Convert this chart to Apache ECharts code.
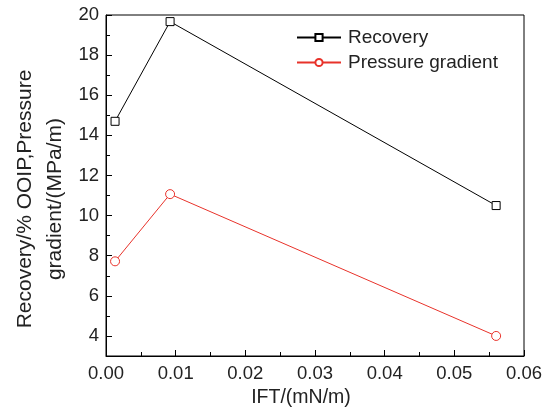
<!DOCTYPE html>
<html><head><meta charset="utf-8">
<script src="https://cdn.jsdelivr.net/npm/echarts@6/dist/echarts.min.js"></script>
<style>html,body{margin:0;padding:0;background:#fff}#c{width:551px;height:414px}</style>
</head><body><div id="c"></div>
<script>
const ift = [0.0013, 0.0092, 0.056];
const recovery = [14.7, 19.67, 10.5];
const pressure = [7.72, 11.07, 4.0];
const yMajor = [4, 6, 8, 10, 12, 14, 16, 18, 20];
const yMinor = [5, 7, 9, 11, 13, 15, 17, 19];
const xMajor = [0, 0.01, 0.02, 0.03, 0.04, 0.05, 0.06];
const xMinor = [0.005, 0.015, 0.025, 0.035, 0.045, 0.055];
const xTitle = 'IFT/(mN/m)';
const yTitle = 'Recovery/% OOIP,Pressure\ngradient/(MPa/m)';

const font = '"Liberation Sans", Arial, sans-serif';
const chart = echarts.init(document.getElementById('c'));
const pair = (xs, ys) => xs.map((x, i) => [x, ys[i]]);
chart.setOption({
  animation: false,
  grid: {left: 106, right: 27, top: 15, bottom: 58, show: true, borderColor: '#000', borderWidth: 1},
  legend: {
    left: 296, top: 28, padding: 0, orient: 'vertical', itemGap: 6, itemWidth: 44, itemHeight: 9,
    textStyle: {fontFamily: font, fontSize: 19, color: '#222', padding: [0, 0, 0, 2]},
    data: ['Recovery', 'Pressure gradient']
  },
  graphic: [
    {type: 'text', x: 301, y: 398, style: {text: xTitle, font: '19.5px ' + font, fill: '#222',
      textAlign: 'center', textVerticalAlign: 'middle'}},
    {type: 'text', x: 40, y: 199, rotation: Math.PI / 2, style: {text: yTitle, font: '21px ' + font, fill: '#222',
      textAlign: 'center', textVerticalAlign: 'middle', lineHeight: 30}}
  ],
  xAxis: [{
    type: 'value', min: 0, max: 0.06, interval: 0.01,
    axisLine: {lineStyle: {color: '#000'}},
    axisTick: {inside: true, length: 6, customValues: xMajor, lineStyle: {color: '#000'}},
    axisLabel: {fontFamily: font, fontSize: 18.5, color: '#222', margin: 8, customValues: xMajor,
      formatter: v => v.toFixed(2)},
    splitLine: {show: false}
  }, {
    type: 'value', min: 0, max: 0.06, position: 'bottom',
    axisLine: {show: false},
    axisTick: {inside: true, length: 4, customValues: xMinor, lineStyle: {color: '#000'}},
    axisLabel: {show: false}, splitLine: {show: false}
  }],
  yAxis: [{
    type: 'value', min: 3, max: 20,
    axisLine: {lineStyle: {color: '#000'}},
    axisTick: {inside: true, length: 6, customValues: yMajor, lineStyle: {color: '#000'}},
    axisLabel: {fontFamily: font, fontSize: 18.5, color: '#222', margin: 7, customValues: yMajor},
    splitLine: {show: false}
  }, {
    type: 'value', min: 3, max: 20, position: 'left',
    axisLine: {show: false},
    axisTick: {inside: true, length: 4, customValues: yMinor, lineStyle: {color: '#000'}},
    axisLabel: {show: false}, splitLine: {show: false}
  }],
  series: [{
    name: 'Recovery', type: 'line', data: pair(ift, recovery),
    symbol: 'rect', symbolSize: 8,
    lineStyle: {color: '#000', width: 1}, itemStyle: {color: '#fff', borderColor: '#000', borderWidth: 1}
  }, {
    name: 'Pressure gradient', type: 'line', data: pair(ift, pressure),
    symbol: 'circle', symbolSize: 9,
    lineStyle: {color: '#e8322a', width: 1}, itemStyle: {color: '#fff', borderColor: '#e8322a', borderWidth: 1}
  }]
});
</script></body></html>
